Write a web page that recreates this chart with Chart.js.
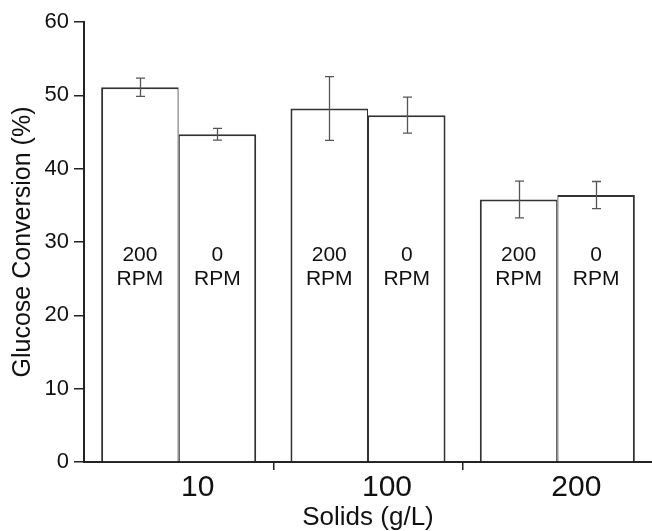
<!DOCTYPE html>
<html>
<head>
<meta charset="utf-8">
<script src="https://cdn.jsdelivr.net/npm/chart.js@4/dist/chart.umd.min.js"></script>
<style>
  html, body { margin: 0; padding: 0; background: #ffffff; }
  #c { display: block; }
</style>
</head>
<body>
<canvas id="c" width="652" height="531"></canvas>
<script>
// ---- data ----
const categories = ['10', '100', '200'];          // Solids (g/L)
const rpm200 = [51.1, 48.2, 35.8];                 // Glucose conversion (%) at 200 RPM
const rpm0 = [44.7, 47.3, 36.4];                   // Glucose conversion (%) at 0 RPM
const err200 = [1.25, 4.35, 2.5];                  // error (+/-) at 200 RPM
const err0 = [0.8, 2.45, 1.85];                    // error (+/-) at 0 RPM
const barLabels200 = ['200', 'RPM'];
const barLabels0 = ['0', 'RPM'];
const yTickStep = 10;
const yMin = 0;
const yMax = 60;

const FONT = "'Liberation Sans', Arial, Helvetica, sans-serif";
const AXIS_COLOR = '#222222';

const errorBarPlugin = {
  id: 'errorBars',
  afterDatasetsDraw(chart, args, opts) {
    const ctx = chart.ctx;
    const yScale = chart.scales.y;
    ctx.save();
    ctx.strokeStyle = opts.color;
    ctx.lineWidth = opts.lineWidth;
    chart.data.datasets.forEach((ds, di) => {
      const meta = chart.getDatasetMeta(di);
      meta.data.forEach((el, i) => {
        const v = ds.data[i];
        const e = ds.errors[i];
        const x = Math.round(el.x) + 0.5;
        const yT = yScale.getPixelForValue(v + e);
        const yB = yScale.getPixelForValue(v - e);
        const hw = opts.capWidth / 2;
        ctx.beginPath();
        ctx.moveTo(x, yT); ctx.lineTo(x, yB);
        ctx.moveTo(x - hw, yT); ctx.lineTo(x + hw, yT);
        ctx.moveTo(x - hw, yB); ctx.lineTo(x + hw, yB);
        ctx.stroke();
      });
    });
    ctx.restore();
  }
};

const barTextPlugin = {
  id: 'barText',
  afterDatasetsDraw(chart, args, opts) {
    const ctx = chart.ctx;
    const yScale = chart.scales.y;
    const yc = yScale.getPixelForValue(opts.atValue);
    ctx.save();
    ctx.fillStyle = opts.color;
    ctx.font = opts.size + 'px ' + FONT;
    ctx.textAlign = 'center';
    ctx.textBaseline = 'middle';
    chart.data.datasets.forEach((ds, di) => {
      const meta = chart.getDatasetMeta(di);
      const lines = ds.barText;
      meta.data.forEach((el) => {
        const n = lines.length;
        lines.forEach((t, k) => {
          const y = yc + (k - (n - 1) / 2) * opts.lineGap;
          ctx.fillText(t, el.x, y);
        });
      });
    });
    ctx.restore();
  }
};

new Chart(document.getElementById('c'), {
  type: 'bar',
  data: {
    labels: categories,
    datasets: [
      {
        label: '200 RPM',
        data: rpm200,
        errors: err200,
        barText: barLabels200,
        backgroundColor: '#ffffff',
        borderColor: '#333333',
        borderWidth: { top: 2, left: 2, right: 1.2, bottom: 0 },
        borderSkipped: 'start'
      },
      {
        label: '0 RPM',
        data: rpm0,
        errors: err0,
        barText: barLabels0,
        backgroundColor: '#ffffff',
        borderColor: '#333333',
        borderWidth: { top: 2, left: 1.2, right: 2, bottom: 0 },
        borderSkipped: 'start'
      }
    ]
  },
  options: {
    responsive: false,
    devicePixelRatio: 1,
    animation: false,
    events: [],
    layout: { padding: { top: 22, right: 0, bottom: 0, left: 0 } },
    datasets: {
      bar: { categoryPercentage: 0.819, barPercentage: 1.0 }
    },
    plugins: {
      legend: { display: false },
      tooltip: { enabled: false },
      title: { display: false },
      errorBars: { color: '#555555', lineWidth: 1.3, capWidth: 9 },
      barText: { atValue: 26.6, lineGap: 24, size: 21, color: '#111111' }
    },
    scales: {
      x: {
        type: 'category',
        offset: true,
        afterFit(scale) { scale.height = 69; },
        border: { display: true, color: AXIS_COLOR, width: 2 },
        grid: {
          offset: true,
          drawOnChartArea: false,
          drawTicks: true,
          tickLength: 8,
          lineWidth: 1.5,
          color: (ctx) => (ctx.type === 'tick' && ctx.index > 0) ? AXIS_COLOR : 'rgba(0,0,0,0)'
        },
        ticks: {
          color: '#111111',
          font: { family: FONT, size: 30 },
          padding: 0,
          labelOffset: 19,
          maxRotation: 0,
          autoSkip: false
        },
        title: {
          display: true,
          text: 'Solids (g/L)',
          color: '#111111',
          font: { family: FONT, size: 26 },
          padding: { top: 0, bottom: -2 }
        }
      },
      y: {
        min: yMin,
        max: yMax,
        afterFit(scale) { scale.width = 84; },
        border: { display: true, color: AXIS_COLOR, width: 2 },
        grid: {
          drawOnChartArea: false,
          drawTicks: true,
          tickLength: 10,
          lineWidth: 1.5,
          color: AXIS_COLOR
        },
        ticks: {
          stepSize: yTickStep,
          color: '#111111',
          font: { family: FONT, size: 22 },
          padding: 5
        },
        title: {
          display: true,
          text: 'Glucose Conversion (%)',
          color: '#111111',
          font: { family: FONT, size: 25 },
          padding: { top: 8, bottom: 0 }
        }
      }
    }
  },
  plugins: [errorBarPlugin, barTextPlugin]
});
</script>
</body>
</html>
